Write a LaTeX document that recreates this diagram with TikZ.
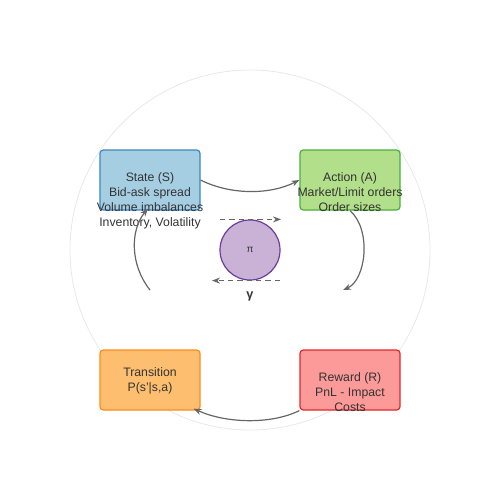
\documentclass[tikz,border=0pt]{standalone}
\usepackage{fontspec}
\setmainfont{Liberation Sans}
\usetikzlibrary{arrows.meta,calc}
\definecolor{txtgray}{HTML}{333333}
\definecolor{arrgray}{HTML}{666666}
\definecolor{ringgray}{HTML}{E8E8E8}
\definecolor{stfill}{HTML}{A6CEE3}
\definecolor{stdraw}{HTML}{3A87C2}
\definecolor{acfill}{HTML}{B2DF8A}
\definecolor{acdraw}{HTML}{4CAF3C}
\definecolor{trfill}{HTML}{FDBF6F}
\definecolor{trdraw}{HTML}{FF8C1A}
\definecolor{rwfill}{HTML}{FB9A99}
\definecolor{rwdraw}{HTML}{E3282B}
\definecolor{pifill}{HTML}{CAB2D6}
\definecolor{pidraw}{HTML}{6A3D9A}
\tikzset{
	box/.style={draw=#1draw,fill=#1fill,line width=0.9pt,rounded corners=2.5pt,
		minimum width=75pt,minimum height=45pt,inner sep=0pt},
	boxtext/.style={anchor=north,align=center,text=txtgray,font=\fontsize{9.2}{11.25}\selectfont},
	flow/.style={draw=arrgray,line width=0.9pt,-{Stealth[length=6pt,width=4.5pt]}},
	disc/.style={flow,dashed,dash pattern=on 4pt off 3pt}
}
\begin{document}
\begin{tikzpicture}[x=0.75pt,y=-0.75pt]
	\useasboundingbox (0,0) rectangle (500,500);
	\draw[ringgray,line width=0.6pt] (250,250) circle[radius=180];
	% the four boxes of the loop
	\foreach \N/\C/\X/\Y in {state/st/150/180, action/ac/350/180,
		trans/tr/150/380, reward/rw/350/380}
	{\node[box=\C] (\N) at (\X,\Y) {};}
	\node[boxtext] (stateT) at (150,168) {State (S)\\Bid-ask spread\\Volume imbalances\\Inventory, Volatility};
	\node[boxtext] (actionT) at (350,168) {Action (A)\\Market/Limit orders\\Order sizes};
	\node[boxtext] (transT) at (150,363) {Transition\\P(s'|s,a)};
	\node[boxtext] (rewardT) at (350,368) {Reward (R)\\PnL - Impact\\Costs};
	% policy
	\node[circle,draw=pidraw,fill=pifill,line width=0.9pt,minimum size=45pt,inner sep=0pt,
		text=txtgray,font=\fontsize{7.5}{9}\selectfont] (pi) at (250,250) {π};
	\node[text=txtgray,font=\bfseries\fontsize{9.5}{11}\selectfont] (gamma) at (250,296) {γ};
	\coordinate (lowL) at (150,290);
	\coordinate (lowR) at (343,290);
	\coordinate (dtA) at ($(pi.north)+(-30,0)$);
	\coordinate (dtB) at ($(pi.north)+(31,0)$);
	\coordinate (dbA) at ($(pi.south)+(30,0)$);
	\coordinate (dbB) at ($(pi.south)+(-38,0)$);
	\draw[flow] (state.east) .. controls (230,195) and (270,195) .. (action.west);
	\draw[flow] (action.south) .. controls (372,230) and (366,280) .. (lowR);
	\draw[flow] (reward.south west) .. controls (270,425) and (225,423) .. ($(trans.south east)+(-7,-2)$);
	\draw[flow] (lowL) .. controls (130,265) and (130,230) .. ($(state.south)+(-2,-2)$);
	\draw[disc] (dtA) -- (dtB);
	\draw[disc] (dbA) -- (dbB);
\end{tikzpicture}
\end{document}
